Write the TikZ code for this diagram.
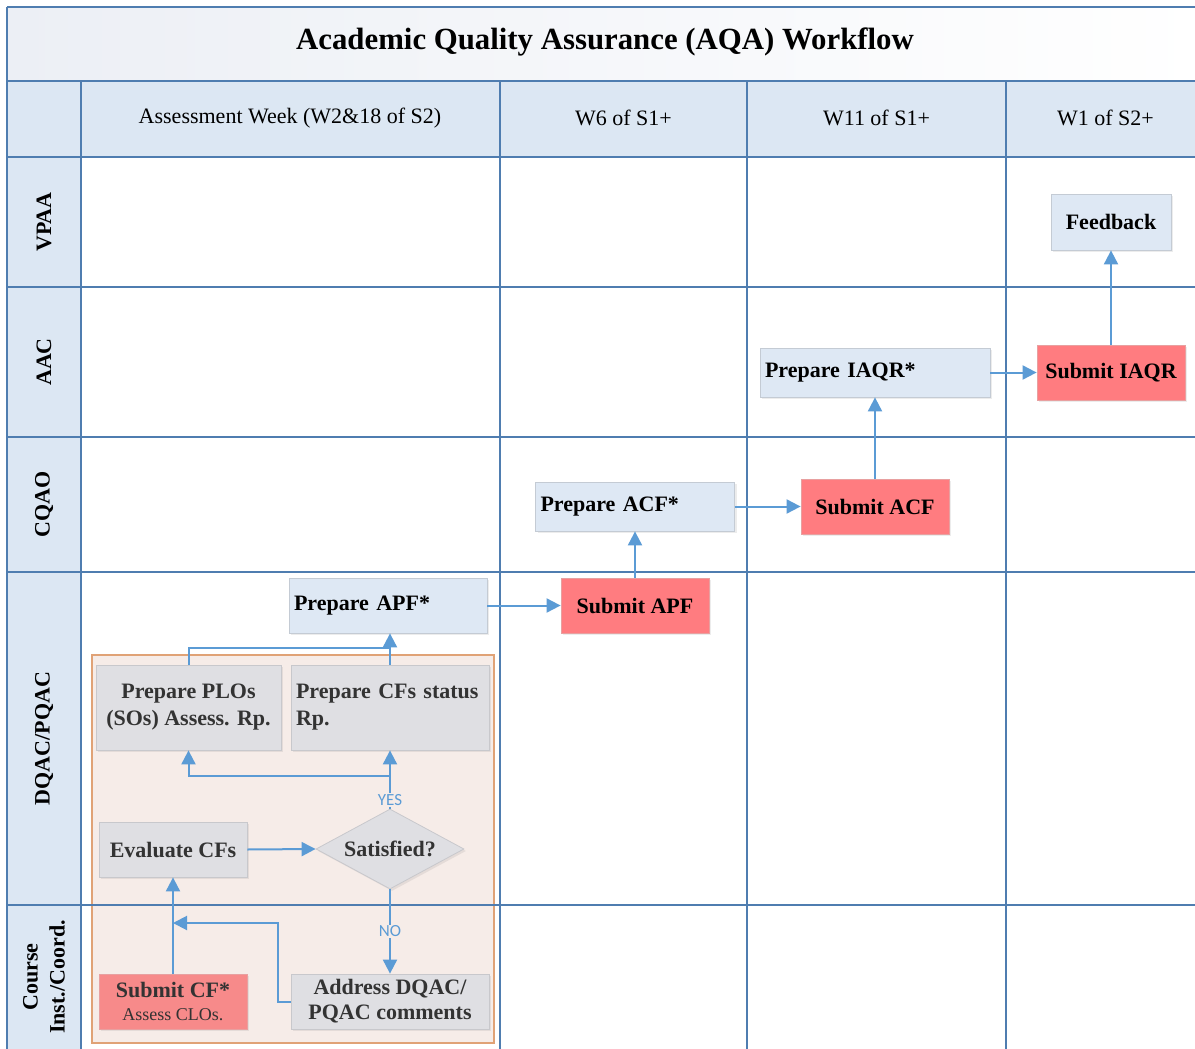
\documentclass[tikz,border=0pt]{standalone}
\usepackage{fontspec}
\setmainfont{Liberation Serif}
\newfontfamily\lblfont{Carlito}
\usetikzlibrary{shapes.geometric,arrows.meta,shadows}

\definecolor{lineblue}{HTML}{4F7DB0}
\definecolor{lanefill}{HTML}{DCE7F3}
\definecolor{arrowblue}{HTML}{5B9BD5}
\definecolor{nodeblue}{HTML}{DEE8F4}
\definecolor{bluebord}{HTML}{C4CBD4}
\definecolor{nodered}{HTML}{FF7C80}
\definecolor{redbord}{HTML}{E8A0A0}
\definecolor{cfred}{HTML}{F78A8A}
\definecolor{nodegray}{HTML}{DFDFE3}
\definecolor{graybord}{HTML}{C8C8CC}
\definecolor{graytext}{HTML}{333333}
\definecolor{boxfill}{HTML}{F6ECE8}
\definecolor{boxedge}{HTML}{E0A276}
\definecolor{titleshade}{HTML}{ECEFF5}

\begin{document}
\begin{tikzpicture}[x=1pt,y=-1pt,
  grid/.style={draw=lineblue,line width=2pt},
  link/.style={draw=arrowblue,line width=2pt},
  flow/.style={link,-{Triangle[length=14pt,width=14pt]}},
  basebox/.style={rectangle,draw,line width=0.8pt,inner sep=5pt,align=center,
    font=\fontsize{22}{27}\selectfont\bfseries,
    drop shadow={shadow xshift=2pt,shadow yshift=-2pt,opacity=0.15}},
  bluebox/.style={basebox,fill=nodeblue,draw=bluebord},
  redbox/.style={basebox,fill=nodered,draw=redbord},
  graybox/.style={basebox,fill=nodegray,draw=graybord,text=graytext},
  lanelabel/.style={rotate=90,align=center,font=\fontsize{22}{27}\selectfont\bfseries},
  colhead/.style={font=\fontsize{22}{26}\selectfont},
  lbl/.style={font=\lblfont\fontsize{17}{17}\selectfont,text=arrowblue,fill=boxfill,inner sep=1pt}
]
\useasboundingbox (0,0) rectangle (1195,1049);
\fill[white] (0,0) rectangle (1195,1049);

% title band, header row and lane column
\shade[left color=titleshade,right color=white] (7,7) rectangle (1205,81);
\fill[lanefill] (7,81) rectangle (1205,157);
\fill[lanefill] (7,157) rectangle (81,1060);

% frame for the assessment-week sub-process
\draw[boxedge,fill=boxfill,line width=1.2pt] (92,655) rectangle (494,1043);

% grid lines
\foreach \yy in {7,81,157,287,437,572,905}
  \draw[grid] (7,\yy) -- (1205,\yy);
\draw[grid] (7,7) -- (7,1060);
\foreach \xx in {81,500,747,1006}
  \draw[grid] (\xx,81) -- (\xx,1060);

% title and headers
\node[font=\fontsize{30.8}{34}\selectfont\bfseries] (title) at (605,42) {Academic Quality Assurance (AQA) Workflow};
\node[colhead] (h1) at (290,118) {Assessment Week (W2\&18 of S2)};
\node[colhead] (h2) at (623.5,118) {W6 of S1+};
\node[colhead] (h3) at (876.5,118) {W11 of S1+};
\node[colhead] (h4) at (1105.5,118) {W1 of S2+};

% lane names
\node[lanelabel] (l1) at (44,222) {VPAA};
\node[lanelabel] (l2) at (44,362) {AAC};
\node[lanelabel] (l3) at (44,504.5) {CQAO};
\node[lanelabel] (l4) at (44,738.5) {DQAC/PQAC};
\node[lanelabel] (l5) at (44,977) {Course\\Inst./Coord.};

% process steps
\node[bluebox,minimum width=120,minimum height=56] (fb) at (1111,222) {Feedback};
\node[redbox,minimum width=148,minimum height=55] (siaqr) at (1111,372.5) {Submit IAQR};
\node[bluebox,minimum width=230,minimum height=49,text width=220,align=left] (piaqr) at (875,372.5) {Prepare IAQR*};
\node[redbox,minimum width=148,minimum height=55] (sacf) at (875,506.5) {Submit ACF};
\node[bluebox,minimum width=199,minimum height=49,text width=189,align=left] (pacf) at (635,506.5) {Prepare ACF*};
\node[redbox,minimum width=148,minimum height=55] (sapf) at (635,605.5) {Submit APF};
\node[bluebox,minimum width=198,minimum height=55,text width=188,align=left] (papf) at (388,605.5) {Prepare APF*};

\node[graybox,minimum width=185,minimum height=85] (plos) at (188.5,707.5) {Prepare PLOs\\(SOs) Assess. Rp.};
\node[graybox,minimum width=198,minimum height=85,text width=188,align=left] (cfs) at (390,707.5) {Prepare CFs status\\Rp.};
\node[graybox,minimum width=148,minimum height=55] (eval) at (173,849.5) {Evaluate CFs};
\node[graybox,diamond,minimum width=148,minimum height=80,inner sep=0pt,aspect=1.85] (sat) at (390,849) {Satisfied?};
\node[graybox,fill=cfred,draw=redbord,minimum width=148,minimum height=55] (scf) at (173,1001.5)
  {Submit CF*\\[-4pt]{\mdseries\fontsize{18}{20}\selectfont Assess CLOs.}};
\node[graybox,minimum width=198,minimum height=55] (addr) at (390,1001.5) {Address DQAC/\\[-2pt]PQAC comments};

% junctions and bends
\coordinate (apfjoin) at (390,648);
\coordinate (yesfork) at (390,776);
\coordinate (retbend) at (278,923);
\coordinate (retend) at (173,923);

% connectors
\draw[flow] (siaqr.north) -- (fb.south);
\draw[flow] (piaqr.east) -- (siaqr.west);
\draw[flow] (sacf.north) -- (piaqr.south);
\draw[flow] (pacf.east) -- (sacf.west);
\draw[flow] (sapf.north) -- (pacf.south);
\draw[flow] (papf.east) -- (sapf.west);
\draw[link] (plos.north) |- (apfjoin);
\draw[flow] (cfs.north) -- (cfs.north |- papf.south);
\draw[flow] (sat.north) -- (cfs.south);
\draw[flow] (yesfork) -| (plos.south);
\node[lbl] (yes) at (390,800) {YES};
\draw[flow] (sat.south) -- node[lbl] (no) {NO} (addr.north);
\draw[flow] (eval.east) -- (sat.west);
\draw[flow] (scf.north) -- (eval.south);
\draw[flow] (addr.west) -| (retbend) -- (retend);
\end{tikzpicture}
\end{document}
